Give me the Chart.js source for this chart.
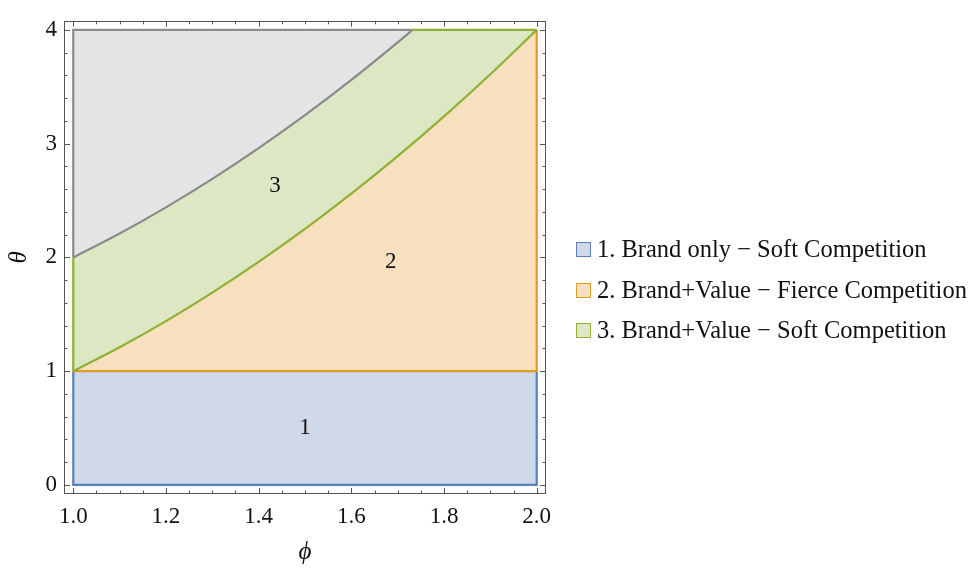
<!DOCTYPE html>
<html>
<head>
<meta charset="utf-8">
<script src="https://cdn.jsdelivr.net/npm/chart.js@4.4.1/dist/chart.umd.min.js"></script>
<style>
  html, body { margin: 0; padding: 0; background: #fff; }
  #wrap { position: relative; width: 974px; height: 569px; }
  #plot { position: absolute; left: 0; top: 0; }
  .key { position: absolute; left: 576px; height: 30px; display: flex; align-items: center;
         font-family: "Liberation Serif", "Times New Roman", serif; font-size: 24.5px; color: #111; white-space: nowrap; }
  .key i { display: inline-block; width: 13px; height: 13px; margin-right: 6px; border: 1.5px solid; }
</style>
</head>
<body>
<div id="wrap">
  <canvas id="plot" width="974" height="569"></canvas>
  <div id="keys"></div>
</div>
<script>
// Boundary between region 2 and region 3 (θ as a function of ϕ)
const phiCurve   = [1.0, 1.1, 1.2, 1.3, 1.4, 1.5, 1.6, 1.7, 1.8, 1.9, 2.0];
const thetaCurve = [1.00, 1.21, 1.44, 1.69, 1.96, 2.25, 2.56, 2.89, 3.24, 3.61, 4.00];
// Upper boundary of region 3 (grey area above it)
const phiUpper   = [1.0, 1.1, 1.2, 1.3, 1.4, 1.5, 1.6, 1.7, 1.732];
const thetaUpper = [2.00, 2.21, 2.44, 2.69, 2.96, 3.25, 3.56, 3.89, 4.00];
// Plot extents
const phiRange   = [1.0, 2.0];
const thetaSplit = 1.0;   // region 1 / region 2 border
const thetaMax   = 4.0;
const thetaMin   = 0.0;
// Tick values and labels
const xTicks = [1.0, 1.2, 1.4, 1.6, 1.8, 2.0];
const xTickLabels = ["1.0", "1.2", "1.4", "1.6", "1.8", "2.0"];
const xMinor = [1.05, 1.1, 1.15, 1.25, 1.3, 1.35, 1.45, 1.5, 1.55, 1.65, 1.7, 1.75, 1.85, 1.9, 1.95];
const yTicks = [0, 1, 2, 3, 4];
const yTickLabels = ["0", "1", "2", "3", "4"];
const yMinor = [0.2, 0.4, 0.6, 0.8, 1.2, 1.4, 1.6, 1.8, 2.2, 2.4, 2.6, 2.8, 3.2, 3.4, 3.6, 3.8];
// Region numbers and where they sit
const regionNames = ["1", "2", "3"];
const regionPhi   = [1.50, 1.685, 1.435];
const regionTheta = [0.50, 1.96, 2.63];
// Legend entries
const legendLabels = [
  "1. Brand only \u2212 Soft Competition",
  "2. Brand+Value \u2212 Fierce Competition",
  "3. Brand+Value \u2212 Soft Competition"
];

const C = {
  blue:   { line: "#5e81b5", fill: "#cfd9e9" },
  orange: { line: "#e19c24", fill: "#f6e0bd" },
  green:  { line: "#8fb032", fill: "#dde7c4" },
  grey:   { line: "#8a8a8a", fill: "#e4e4e4" }
};
const SERIF = '"Liberation Serif", "Times New Roman", serif';

const pts = (xs, ys) => xs.map((x, i) => ({ x, y: ys[i] }));
const [p0, p1] = phiRange;
const phiTop = phiUpper[phiUpper.length - 1];

const base = { showLine: true, pointRadius: 0, pointHoverRadius: 0, borderWidth: 0, fill: false };
const curve = { cubicInterpolationMode: "monotone" };
const EDGE = 2.2;

const datasets = [
  // edges (drawn on top)
  { ...base, ...curve, order: 0, data: pts(phiCurve, thetaCurve), borderColor: C.green.line, borderWidth: EDGE },
  { ...base, order: 0, data: [{ x: p0, y: thetaSplit }, { x: p0, y: 2 }], borderColor: C.green.line, borderWidth: EDGE },
  { ...base, order: 0, data: [{ x: phiTop, y: thetaMax }, { x: p1, y: thetaMax }], borderColor: C.green.line, borderWidth: EDGE },
  { ...base, ...curve, order: 0, data: pts(phiUpper, thetaUpper), borderColor: C.grey.line, borderWidth: EDGE },
  { ...base, order: 0, data: [{ x: phiTop, y: thetaMax }, { x: p0, y: thetaMax }, { x: p0, y: 2 }], borderColor: C.grey.line, borderWidth: EDGE },
  { ...base, order: 1, data: [{ x: p0, y: thetaSplit }, { x: p1, y: thetaSplit }, { x: p1, y: thetaMax }], borderColor: C.orange.line, borderWidth: EDGE },
  { ...base, order: 2, data: [{ x: p0, y: thetaSplit }, { x: p0, y: thetaMin }, { x: p1, y: thetaMin }, { x: p1, y: thetaSplit }], borderColor: C.blue.line, borderWidth: EDGE },
  // filled regions
  { ...base, ...curve, order: 3, data: pts(phiUpper, thetaUpper), borderColor: "rgba(0,0,0,0)",
    fill: { target: { value: thetaMax } }, backgroundColor: C.grey.fill },
  { ...base, ...curve, order: 4, data: pts(phiCurve, thetaCurve), borderColor: "rgba(0,0,0,0)",
    fill: { target: { value: thetaMax } }, backgroundColor: C.green.fill },
  { ...base, ...curve, order: 4, data: pts(phiCurve, thetaCurve), borderColor: "rgba(0,0,0,0)",
    fill: { target: { value: thetaSplit } }, backgroundColor: C.orange.fill },
  { ...base, order: 4, data: [{ x: p0, y: thetaSplit }, { x: p1, y: thetaSplit }], borderColor: "rgba(0,0,0,0)",
    fill: { target: { value: thetaMin } }, backgroundColor: C.blue.fill }
];

// Mathematica-style frame with inward ticks, plus the region numbers
const frameTicks = {
  id: "frameTicks",
  afterDatasetsDraw(chart) {
    const { ctx, chartArea: a, scales: { x, y } } = chart;
    ctx.save();
    ctx.strokeStyle = "#555";
    ctx.lineWidth = 1;
    ctx.strokeRect(Math.round(a.left) + 0.5, Math.round(a.top) + 0.5,
                   Math.round(a.right - a.left) - 1, Math.round(a.bottom - a.top) - 1);
    ctx.beginPath();
    const tick = (v, len, horiz) => {
      if (horiz) {
        const px = Math.round(x.getPixelForValue(v)) + 0.5;
        ctx.moveTo(px, a.bottom); ctx.lineTo(px, a.bottom - len);
        ctx.moveTo(px, a.top); ctx.lineTo(px, a.top + len);
      } else {
        const py = Math.round(y.getPixelForValue(v)) + 0.5;
        ctx.moveTo(a.left, py); ctx.lineTo(a.left + len, py);
        ctx.moveTo(a.right, py); ctx.lineTo(a.right - len, py);
      }
    };
    xTicks.forEach(v => tick(v, 6, true));
    xMinor.forEach(v => tick(v, 3.5, true));
    yTicks.forEach(v => tick(v, 6, false));
    yMinor.forEach(v => tick(v, 3.5, false));
    ctx.stroke();

    ctx.fillStyle = "#111";
    ctx.font = "23px " + SERIF;
    ctx.textAlign = "center";
    ctx.textBaseline = "middle";
    regionNames.forEach((t, i) => {
      ctx.fillText(t, x.getPixelForValue(regionPhi[i]), y.getPixelForValue(regionTheta[i]));
    });
    ctx.restore();
  }
};

const tickFont = { family: SERIF, size: 23 };

new Chart(document.getElementById("plot"), {
  type: "scatter",
  data: { datasets },
  options: {
    responsive: false,
    animation: false,
    events: [],
    layout: { padding: { top: 12, right: 428, bottom: 0, left: 0 } },
    plugins: { legend: { display: false }, tooltip: { enabled: false } },
    scales: {
      x: {
        type: "linear", min: 0.98, max: 2.02,
        afterFit(s) { s.height = 75; },
        afterBuildTicks(s) { s.ticks = xTicks.map(v => ({ value: v })); },
        grid: { display: false, drawTicks: false },
        border: { display: false },
        ticks: { autoSkip: false, maxRotation: 0, padding: 9, color: "#111", font: tickFont,
                 callback: (v, i) => xTickLabels[i] },
        title: { display: true, text: "\u03d5", color: "#111",
                 font: { family: SERIF, size: 25, style: "italic" }, padding: { top: 0, bottom: 2 } }
      },
      y: {
        type: "linear", min: -0.08, max: 4.08,
        afterFit(s) { s.width = 64; },
        afterBuildTicks(s) { s.ticks = yTicks.map(v => ({ value: v })); },
        grid: { display: false, drawTicks: false },
        border: { display: false },
        ticks: { autoSkip: false, padding: 7, color: "#111", font: tickFont,
                 callback: (v, i) => yTickLabels[i] },
        title: { display: true, text: "\u03b8", color: "#111",
                 font: { family: SERIF, size: 25, style: "italic" }, padding: { top: 4, bottom: 0 } }
      }
    }
  },
  plugins: [frameTicks]
});

// Legend beside the plot
const keyColors = [C.blue, C.orange, C.green];
const keyTops = [234, 275, 315];
const keys = document.getElementById("keys");
legendLabels.forEach((label, i) => {
  const row = document.createElement("div");
  row.className = "key";
  row.style.top = keyTops[i] + "px";
  const sw = document.createElement("i");
  sw.style.borderColor = keyColors[i].line;
  sw.style.background = keyColors[i].fill;
  row.appendChild(sw);
  row.appendChild(document.createTextNode(label));
  keys.appendChild(row);
});
</script>
</body>
</html>
